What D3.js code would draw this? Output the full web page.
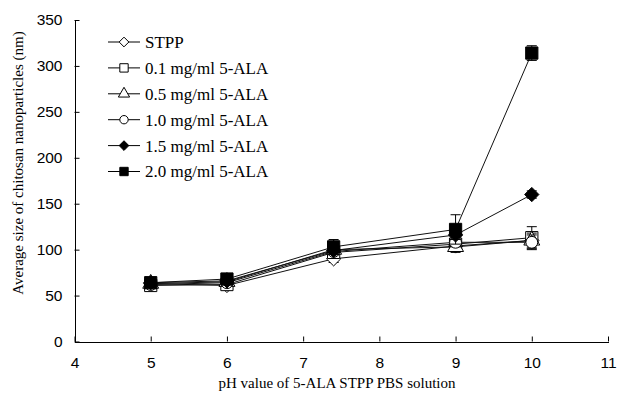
<!DOCTYPE html>
<html lang="en">
  <head>
    <meta charset="UTF-8" />
    <title>Chitosan nanoparticle size vs pH</title>
    <style>
      body {
        margin: 0;
        background: #ffffff;
      }
      svg {
        display: block;
        font-family: "Liberation Serif", "Times New Roman", serif;
      }
      .axis path,
      .axis line {
        stroke: #000;
        stroke-width: 1px;
      }
      .axis text {
        font-size: 15.5px;
        fill: #000;
      }
      .series-line {
        fill: none;
        stroke: #111;
        stroke-width: 1px;
      }
      .err {
        stroke: #000;
        stroke-width: 1px;
      }
    </style>
    <script src="https://d3js.org/d3.v7.min.js"></script>
  </head>
  <body>
    <svg id="chart"></svg>
    <script>
      // pH values on the x axis
      const phValues = [5, 6, 7.4, 9, 10];

      const seriesNames = [
        "STPP",
        "0.1 mg/ml 5-ALA",
        "0.5 mg/ml 5-ALA",
        "1.0 mg/ml 5-ALA",
        "1.5 mg/ml 5-ALA",
        "2.0 mg/ml 5-ALA",
      ];

      // average size (nm)
      const stpp = [63, 61, 90, 104, 110];
      const ala01 = [61, 62, 97, 106, 113];
      const ala05 = [63, 65, 100, 103, 110];
      const ala10 = [62, 64, 98, 108, 108];
      const ala15 = [64, 66, 99, 116, 160];
      const ala20 = [64, 68, 103, 122, 314];

      // error bar half-heights
      const stppErr = [3, 3, 4, 5, 6];
      const ala01Err = [3, 3, 4, 5, 12];
      const ala05Err = [3, 3, 4, 6, 8];
      const ala10Err = [3, 3, 4, 5, 8];
      const ala15Err = [3, 3, 4, 5, 4];
      const ala20Err = [5, 4, 8, 16, 8];

      const xTicks = [4, 5, 6, 7, 8, 9, 10, 11];
      const yTicks = [0, 50, 100, 150, 200, 250, 300, 350];

      const markerTypes = ["diamond", "square", "triangle", "circle", "diamond", "square"];
      const markerFilled = [false, false, false, false, true, true];

      const series = seriesNames.map((name, i) => ({
        name,
        values: [stpp, ala01, ala05, ala10, ala15, ala20][i],
        errors: [stppErr, ala01Err, ala05Err, ala10Err, ala15Err, ala20Err][i],
        marker: markerTypes[i],
        filled: markerFilled[i],
      }));

      const width = 622;
      const height = 398;

      const svg = d3.select("#chart").attr("width", width).attr("height", height);

      const x = d3.scaleLinear().domain([4, 11]).range([74.5, 608]);
      const y = d3.scaleLinear().domain([0, 350]).range([341.5, 20]);

      // marker drawing helpers
      const symbolFor = (type, big) => {
        const sizes = big
          ? { diamond: 130, square: 150, triangle: 110, circle: 110 }
          : { diamond: 60, square: 70, triangle: 55, circle: 55 };
        const t = {
          diamond: d3.symbolDiamond2 || d3.symbolDiamond,
          square: d3.symbolSquare,
          triangle: d3.symbolTriangle,
          circle: d3.symbolCircle,
        }[type];
        return d3.symbol().type(t).size(sizes[type])();
      };

      // axes
      svg
        .append("g")
        .attr("class", "axis")
        .attr("transform", `translate(0,${y(0)})`)
        .call(
          d3
            .axisBottom(x)
            .tickValues(xTicks)
            .tickFormat(d3.format("d"))
            .tickSizeInner(-5)
            .tickSizeOuter(0)
            .tickPadding(15)
        );

      svg
        .append("g")
        .attr("class", "axis")
        .attr("transform", `translate(${x(4)},0)`)
        .call(
          d3
            .axisLeft(y)
            .tickValues(yTicks)
            .tickSizeInner(-5)
            .tickSizeOuter(0)
            .tickPadding(12)
        );

      svg.selectAll(".axis .domain").attr("shape-rendering", "crispEdges");

      // axis titles
      svg
        .append("text")
        .attr("x", 337)
        .attr("y", 388)
        .attr("text-anchor", "middle")
        .attr("font-size", 15)
        .text("pH value of 5-ALA STPP PBS solution");

      svg
        .append("text")
        .attr("transform", "translate(18,163) rotate(-90)")
        .attr("text-anchor", "middle")
        .attr("dy", "0.35em")
        .attr("font-size", 15)
        .text("Average size of chitosan nanoparticles (nm)");

      const line = d3
        .line()
        .x((d, i) => x(phValues[i]))
        .y((d) => y(d));

      const plot = svg.append("g");

      series.forEach((s) => {
        const g = plot.append("g");

        g.append("path").attr("class", "series-line").attr("d", line(s.values));

        // error bars
        s.values.forEach((v, i) => {
          const cx = x(phValues[i]);
          const e = s.errors[i];
          g.append("line")
            .attr("class", "err")
            .attr("x1", cx)
            .attr("x2", cx)
            .attr("y1", y(v - e))
            .attr("y2", y(v + e));
          [v - e, v + e].forEach((w) => {
            g.append("line")
              .attr("class", "err")
              .attr("x1", cx - 5)
              .attr("x2", cx + 5)
              .attr("y1", y(w))
              .attr("y2", y(w));
          });
        });

        g.selectAll("path.marker")
          .data(s.values)
          .join("path")
          .attr("class", "marker")
          .attr("transform", (d, i) => `translate(${x(phValues[i])},${y(d)})`)
          .attr("d", symbolFor(s.marker, true))
          .attr("fill", s.filled ? "#000" : "#fff")
          .attr("stroke", "#000")
          .attr("stroke-width", 1);
      });

      // legend
      const legend = svg.append("g").attr("transform", "translate(108,42)");

      series.forEach((s, i) => {
        const row = legend.append("g").attr("transform", `translate(0,${i * 25.9})`);
        row
          .append("line")
          .attr("x1", 0)
          .attr("x2", 32)
          .attr("stroke", "#000")
          .attr("stroke-width", 1);
        row
          .append("path")
          .attr("transform", "translate(16,0)")
          .attr("d", symbolFor(s.marker, false))
          .attr("fill", s.filled ? "#000" : "#fff")
          .attr("stroke", "#000")
          .attr("stroke-width", 1);
        row
          .append("text")
          .attr("x", 37)
          .attr("dy", "0.35em")
          .attr("font-size", 17)
          .text(s.name);
      });
    </script>
  </body>
</html>
